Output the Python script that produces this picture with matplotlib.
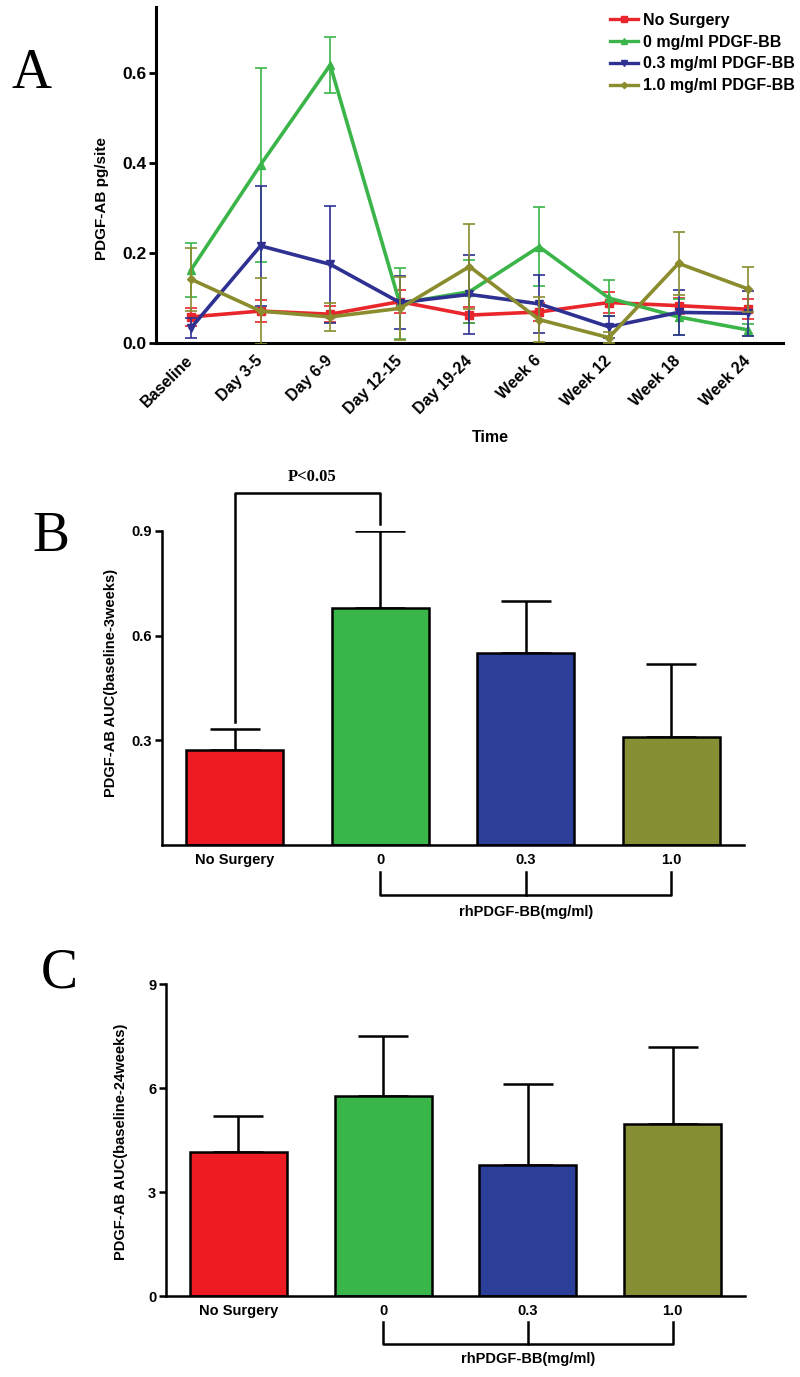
import matplotlib
matplotlib.use("Agg")
import matplotlib.pyplot as plt
import matplotlib.transforms as mtransforms
from matplotlib.lines import Line2D
import numpy as np

plt.rcParams['font.family'] = ['Liberation Sans', 'DejaVu Sans']
plt.rcParams['font.weight'] = 'bold'

# ---------------- Panel A data ----------------
time_labels = ["Baseline", "Day 3-5", "Day 6-9", "Day 12-15", "Day 19-24",
               "Week 6", "Week 12", "Week 18", "Week 24"]
series_names = ["No Surgery", "0 mg/ml PDGF-BB", "0.3 mg/ml PDGF-BB", "1.0 mg/ml PDGF-BB"]
no_surgery = [0.058, 0.071, 0.064, 0.092, 0.062, 0.069, 0.090, 0.083, 0.075]
no_surgery_err = [0.020, 0.024, 0.018, 0.026, 0.018, 0.020, 0.024, 0.018, 0.022]
pdgf_0 = [0.162, 0.396, 0.618, 0.088, 0.114, 0.214, 0.100, 0.058, 0.029]
pdgf_0_err = [0.060, 0.216, 0.062, 0.078, 0.070, 0.088, 0.040, 0.040, 0.014]
pdgf_03 = [0.033, 0.216, 0.175, 0.090, 0.108, 0.087, 0.036, 0.068, 0.066]
pdgf_03_err = [0.022, 0.133, 0.130, 0.058, 0.088, 0.065, 0.025, 0.050, 0.050]
pdgf_10 = [0.142, 0.071, 0.058, 0.077, 0.170, 0.052, 0.012, 0.177, 0.120]
pdgf_10_err = [0.070, 0.074, 0.032, 0.070, 0.094, 0.050, 0.012, 0.070, 0.050]

# ---------------- Panel B / C data ----------------
groups = ["No Surgery", "0", "0.3", "1.0"]
auc_3w = [0.273, 0.680, 0.551, 0.310]
auc_3w_err = [0.060, 0.220, 0.149, 0.210]
auc_24w = [4.15, 5.77, 3.78, 4.96]
auc_24w_err = [1.04, 1.73, 2.33, 2.22]

line_colors = ['#E8262B', '#3BB54A', '#2E3192', '#8A8C2D']
markers = ['s', '^', 'v', 'D']
msizes = [6, 6, 6, 4]
bar_colors = ['#ED1C24', '#39B54A', '#2B3F98', '#878F34']

W, H = 800, 1377
fig = plt.figure(figsize=(W / 100, H / 100), dpi=100)

def ax_rect(l, r, t, b):
    return [l / W, 1 - b / H, (r - l) / W, (b - t) / H]

# ---------------- Panel A ----------------
axA = fig.add_axes(ax_rect(156, 783, 7, 343))
x = np.arange(len(time_labels))
all_y = [no_surgery, pdgf_0, pdgf_03, pdgf_10]
all_e = [no_surgery_err, pdgf_0_err, pdgf_03_err, pdgf_10_err]
handles = []
for i, (yv, ev) in enumerate(zip(all_y, all_e)):
    axA.errorbar(x, yv, yerr=ev, color=line_colors[i], lw=2.6, marker=markers[i],
                 ms=msizes[i], elinewidth=1.2, capsize=4, capthick=1.2,
                 zorder=3 + i)
    handles.append(Line2D([], [], color=line_colors[i], lw=2.4,
                          marker=markers[i], ms=msizes[i] * 0.8))
axA.set_xlim(-0.5, 8.5)
axA.set_ylim(0, 0.747)
axA.set_yticks([0, 0.2, 0.4, 0.6])
axA.set_yticklabels(["0.0", "0.2", "0.4", "0.6"])
axA.set_xticks(x)
axA.set_xticklabels(time_labels, rotation=45, ha='right', va='center',
                    rotation_mode='anchor')
axA.tick_params(axis='x', length=0, pad=11, labelsize=11.5)
axA.tick_params(axis='y', length=5, width=2, labelsize=12.5, pad=2)
for s in ['top', 'right']:
    axA.spines[s].set_visible(False)
for s in ['left', 'bottom']:
    axA.spines[s].set_linewidth(2.2)
axA.set_ylabel("PDGF-AB pg/site", fontsize=11, fontweight='bold')
axA.yaxis.set_label_coords(-0.075, 0.43)
axA.set_xlabel("Time", fontsize=11.5, fontweight='bold')
axA.xaxis.set_label_coords(0.534, -0.259)
axA.legend(handles, series_names, loc='upper left',
           bbox_to_anchor=(610 / W, 1 - 13 / H),
           bbox_transform=fig.transFigure, frameon=False, fontsize=11.5,
           borderpad=0, borderaxespad=0, handlelength=1.75,
           handletextpad=0.3, labelspacing=0.42)

# ---------------- Bar panel helper ----------------
def bar_panel(rect, vals, errs, ylim, yticks, yticklabels, ylabel, ylab_coords,
              brk):
    ax = fig.add_axes(rect)
    xb = np.arange(len(groups))
    ax.bar(xb, vals, width=0.67, color=bar_colors, edgecolor='black', lw=1.8,
           zorder=2)
    ax.errorbar(xb, vals, yerr=[np.zeros(len(vals)), errs], fmt='none',
                ecolor='black', elinewidth=1.8, capsize=18, capthick=1.8,
                zorder=1)
    ax.set_xlim(-0.5, 3.5)
    ax.set_ylim(*ylim)
    ax.set_yticks(yticks)
    ax.set_yticklabels(yticklabels)
    ax.set_xticks(xb)
    ax.set_xticklabels(groups)
    ax.tick_params(axis='x', length=0, pad=6, labelsize=10.5)
    ax.tick_params(axis='y', length=5, width=1.8, labelsize=10.5, pad=2)
    for s in ['top', 'right']:
        ax.spines[s].set_visible(False)
    for s in ['left', 'bottom']:
        ax.spines[s].set_linewidth(1.8)
    ax.set_ylabel(ylabel, fontsize=10.5, fontweight='bold')
    ax.yaxis.set_label_coords(*ylab_coords)
    # bracket under the rhPDGF-BB groups
    tr = mtransforms.blended_transform_factory(ax.transData, ax.transAxes)
    t_top, h_y, lab_y = brk
    ax.plot([1, 1, 3, 3], [t_top, h_y, h_y, t_top], color='black', lw=1.8,
            transform=tr, clip_on=False)
    ax.plot([2, 2], [h_y, t_top], color='black', lw=1.8, transform=tr,
            clip_on=False)
    ax.text(2, lab_y, "rhPDGF-BB(mg/ml)", transform=tr, ha='center',
            va='center', fontsize=10.5, fontweight='bold')
    return ax

axB = bar_panel(ax_rect(162, 744, 531, 845), auc_3w, auc_3w_err, (0, 0.9),
                [0.3, 0.6, 0.9], ["0.3", "0.6", "0.9"],
                "PDGF-AB AUC(baseline-3weeks)", (-0.0756, 0.516),
                (-0.086, -0.159, -0.213))
# significance bracket
axB.plot([0, 0, 1, 1], [0.353, 1.008, 1.008, 0.92], color='black', lw=1.8,
         clip_on=False)
axB.text(0.53, 1.054, "P<0.05", ha='center', va='center', fontsize=12,
         fontweight='bold', family=['Liberation Serif', 'DejaVu Serif'])

axC = bar_panel(ax_rect(166, 745, 984, 1296), auc_24w, auc_24w_err, (0, 9),
                [0, 3, 6, 9], ["0", "3", "6", "9"],
                "PDGF-AB AUC(baseline-24weeks)", (-0.0656, 0.494),
                (-0.083, -0.154, -0.202))

# panel letters
for lab, xp, yp in [("A", 12, 88), ("B", 32, 551), ("C", 41, 988)]:
    fig.text(xp / W, 1 - yp / H, lab, fontsize=40, fontweight='normal',
             family=['Liberation Serif', 'DejaVu Serif'], ha='left',
             va='baseline')

fig.savefig("out.png", dpi=100)
